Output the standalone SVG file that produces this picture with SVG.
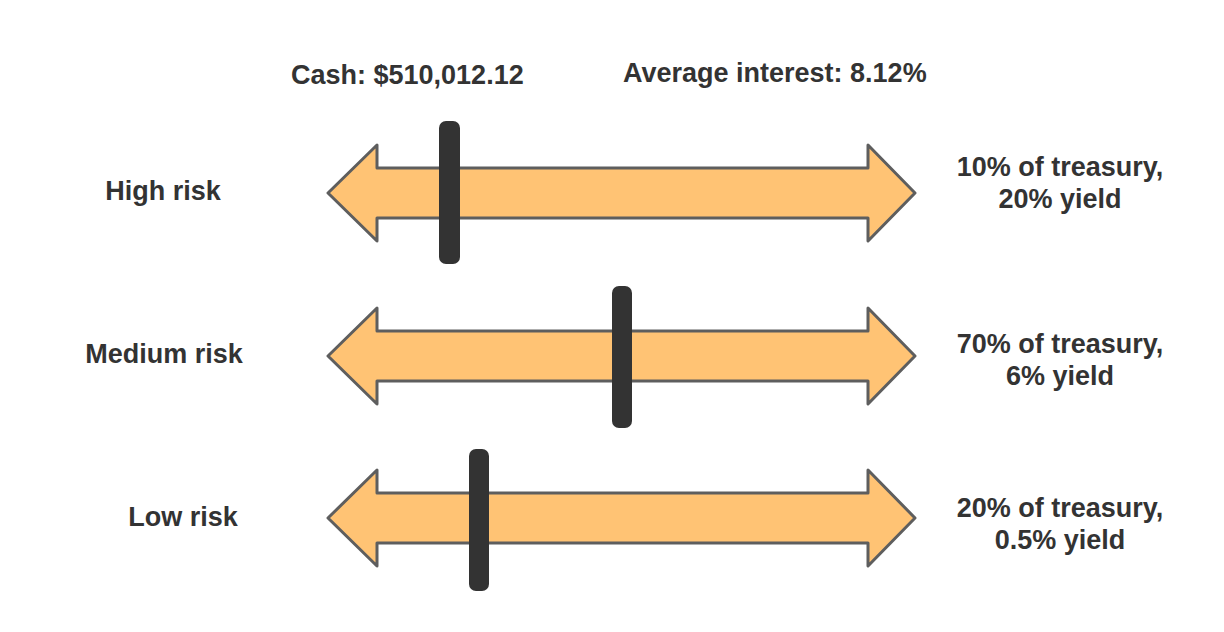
<svg xmlns="http://www.w3.org/2000/svg" width="1224" height="632" viewBox="0 0 1224 632">
<defs>
<style>
.t{font-family:"Liberation Sans",Arial,sans-serif;font-weight:bold;fill:#333333;font-size:27px}
.c{text-anchor:middle}
.arr{fill:#ffc374;stroke:#5e5e5e;stroke-width:3;stroke-linejoin:round}
.bar{fill:#333333}
</style>
<path id="dbl" d="M328,0 L377,-48 L377,-25 L868,-25 L868,-48 L915,0 L868,48 L868,25 L377,25 L377,48 Z"/>
</defs>
<g id="header">
<text class="t" x="291" y="84">Cash: $510,012.12</text>
<text class="t" x="623" y="82">Average interest: 8.12%</text>
</g>
<g id="high">
<text class="t c" x="163" y="200">High risk</text>
<use href="#dbl" class="arr" transform="translate(0,193)"/>
<rect class="bar" x="439" y="121" width="21" height="143" rx="7"/>
<text class="t c" x="1060" y="176">10% of treasury,</text>
<text class="t c" x="1060" y="208">20% yield</text>
</g>
<g id="medium">
<text class="t c" x="164" y="363">Medium risk</text>
<use href="#dbl" class="arr" transform="translate(0,356)"/>
<rect class="bar" x="612" y="286" width="20" height="142" rx="7"/>
<text class="t c" x="1060" y="353">70% of treasury,</text>
<text class="t c" x="1060" y="385">6% yield</text>
</g>
<g id="low">
<text class="t c" x="183" y="526">Low risk</text>
<use href="#dbl" class="arr" transform="translate(0,518)"/>
<rect class="bar" x="469" y="449" width="20" height="142" rx="7"/>
<text class="t c" x="1060" y="517">20% of treasury,</text>
<text class="t c" x="1060" y="549">0.5% yield</text>
</g>
<g id="connectors"/>
</svg>
